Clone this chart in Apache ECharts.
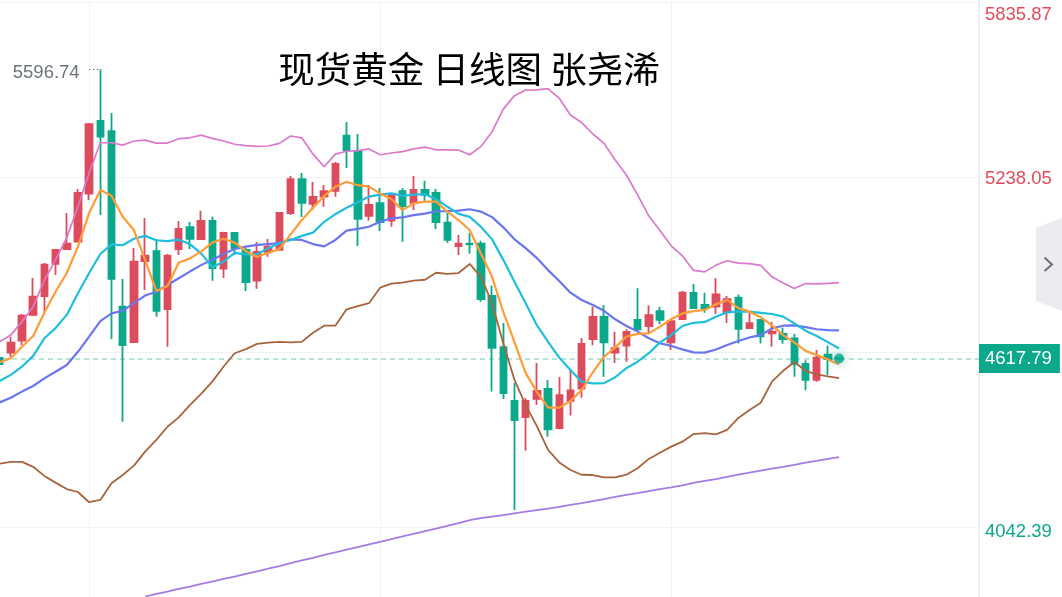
<!DOCTYPE html>
<html><head><meta charset="utf-8">
<style>html,body{margin:0;padding:0;background:#fff}#c{width:1062px;height:597px}</style>
<script src="https://cdn.jsdelivr.net/npm/echarts@6/dist/echarts.min.js"></script>
</head><body><div id="c"></div>
<script>
const titleText = '现货黄金 日线图 张尧浠';
const tickValues = [5835.87, 5238.05, 4640.23, 4042.39];
const labelValues = [5835.87, 5238.05, 4042.39];
const labelRichKeys = ['top', 'mid', 'low'];
const lastPrice = 4617.79;
const peakLabel = '5596.74';
const categories = Array.from({length: 88}, (_, i) => String(i));
const gridMarks = ['8', '34', '60'];

const opens = [4620,4638,4679,4767,4831.5,4941,4992,5017,5181,5430,5395,4795,4674,4951,4985,4787,4992,5067,5026,5088,4925,5047,4989,4884,4982,4989,5115,5231,5146,5171,5191,5379,5327,5105,5149,5089,5190,5150,5194,5184,5082,5002,5010,5010,4831.5,4657,4473,4418,4480,4514,4380,4473,4515,4684,4760,4638,4662,4750,4729,4780,4673,4753,4842,4801,4795,4776,4826,4722,4750,4704,4702,4687,4600,4545,4631,4619];
const closes = [4599,4672,4764,4829,4938.5,4989,5010,5184,5419,5376,4890,4664,4949,4969,4781,4969,5061,5027,5088,4927,5047,4995.5,4879,4982,5000,5115,5231,5150,5170,5190,5282.5,5330,5095,5143,5084,5178,5139,5194,5177,5084,5023,5010,5008,4821,4654,4500,4408,4473,4507,4376,4493,4509,4668,4760,4673,4653,4709,4718,4766,4750,4746,4843,4790.5,4790.5,4837,4821,4719,4739,4694,4710,4684,4599,4545,4621,4616,4617.79];
const lows = [4596,4623,4664,4763,4777,4903,4990,5016,5159.5,5108,4685,4402,4673,4852,4761,4658,4972,4992,5023,4884,4893,4972,4849,4856.5,4966,4986,5108,5101,5125,5136,5171,5269,5002,5089,5054,5068,5017,5125,5157,5060,5013,4972,4976,4812,4505,4480,4100.5,4303,4459,4351,4376,4423,4484,4663,4556,4603,4607,4710,4704,4735,4647,4750,4789,4774.5,4770,4739,4669,4719,4669,4658,4668,4556,4510,4539,4562,4616];
const highs = [4623,4692.5,4770,4893,4944,4992,5115,5197,5422.5,5606,5457,4890,4995.5,5098,5026,4975,5088,5084,5123,5102,5051,5047.5,4995.5,5016,5026,5115.5,5241.5,5252,5221,5211,5289,5426,5385,5211,5200.5,5183,5200.5,5241.5,5225,5197,5125,5040,5047,5020,4867,4739,4534,4483,4603,4545,4555,4582,4688,4795,4801,4709,4718,4858,4800,4795,4750,4849,4872.5,4843,4892,4831.5,4837,4774.5,4752,4744,4723,4703,4612,4647,4662,4620];

const upperBand = [4675,4698,4744,4795,4886,4955,5030,5137,5252,5355,5355,5347,5361,5364,5354,5354,5369,5372,5381,5370,5361,5350,5345,5343,5344,5353,5378,5372,5316,5273,5316,5326,5328,5334,5314,5320,5325,5334,5340,5331,5331,5330,5314,5342,5393,5470,5516,5535,5536,5540,5507,5450,5424,5385,5353,5296,5245,5177,5105,5055,5003,4969,4919,4914,4937,4952,4944,4942,4936,4897,4876,4857,4874,4873,4875,4877];
const ma5 = [4605,4619,4658,4695,4774,4846,4910,5000,5115,5194,5174,5102,5057,4955,4849,4866,4945,4960,4983,5014,5027,5014,4985,4965,4979,4992,5042,5091,5133,5173,5205,5222,5210,5205,5182,5163,5125,5148,5154,5154,5120,5091,5057,4977,4897,4777,4674,4568,4504,4450,4450,4473,4510,4571,4624,4656,4693,4702,4704,4727,4752,4772,4780,4784,4803,4818,4790,4778,4759,4731,4698,4673,4644,4630,4615,4598];
const ma10 = [4541,4562,4590,4627,4687,4722,4767,4841,4910,4975,5008,5005,5027,5037,5022,5019,5024,5009,4977,4930,4949,4979,4974,4974,4995,5012,5023,5037,5048,5085,5111,5133,5152,5171,5178,5182,5174,5178,5180,5162,5137,5112,5102,5068,5025,4955,4880,4807,4732,4675,4621,4579,4539,4533,4534,4554,4585,4607,4636,4673,4698,4729,4740,4743,4761,4776,4778,4778,4774,4770,4761,4738,4713,4695,4674,4652];
const ma20 = [4468,4484,4505,4524,4550,4573,4596,4641,4693,4746,4772,4781,4807,4833,4846,4869,4892,4915,4937,4955,4975,4992,5000,5006,5009,5012,5025,5023,5009,5001,5023,5055,5061,5068,5085,5097,5100,5108,5113,5121,5121,5123,5128,5120,5101,5066,5025,4995,4961,4920,4883,4843,4818,4801,4781,4752,4729,4710,4687,4670,4661,4649,4639,4638,4649,4664,4678,4690,4698,4721,4730,4731,4725,4718,4715,4714];
const lowerBand = [4259,4265,4265,4248,4217,4194,4172,4162,4127,4135,4192,4220,4252,4300,4340,4385,4417,4459,4497,4539,4590,4636,4650,4668,4672,4675,4673,4675,4706,4730,4730,4786,4797,4807,4860,4874,4877,4884,4887,4911,4907,4910,4941,4897,4807,4670,4545,4459,4387,4306,4263,4237,4221,4220,4212,4212,4221,4243,4275,4296,4317,4334,4360,4363,4359,4374,4415,4442,4467,4539,4576,4606,4576,4564,4557,4551];
const ma200 = [null,null,null,null,null,null,null,null,null,null,null,null,null,3805,3814,3822,3831,3839,3848,3856,3865,3873,3882,3891,3900,3909,3919,3928,3937,3947,3956,3965,3974,3983,3992,4001,4010,4019,4028,4037,4046,4056,4066,4073,4078,4083,4089,4095,4100,4105,4111,4118,4124,4131,4138,4145,4152,4158,4165,4172,4178,4185,4193,4200,4206,4214,4221,4228,4235,4242,4248,4255,4262,4268,4275,4281.5];

const RED = '#DC4C5C', GREEN = '#0BA88B', GRID = '#F2F3F7';
const candles = opens.map((o, i) => [o, closes[i], lows[i], highs[i]]);
const lineSeries = (name, data, color, width) => ({
  name, type: 'line', data, symbol: 'none', smooth: false, z: 3, connectNulls: false,
  lineStyle: {color, width}, silent: true
});
const tickFont = {fontSize: 18.5, fontFamily: '"Liberation Sans"'};

const chart = echarts.init(document.getElementById('c'), null, {renderer: 'canvas'});
chart.setOption({
  animation: false,
  backgroundColor: '#fff',
  title: {text: titleText, left: 464, top: 46, textAlign: 'center',
    textStyle: {fontFamily: '"Noto Sans CJK SC"', fontSize: 36.5, fontWeight: 'normal', color: '#000'}},
  grid: {left: -6, right: 83, top: 2, bottom: 0, containLabel: false, outerBoundsMode: 'none'},
  xAxis: {type: 'category', data: categories, boundaryGap: true,
    axisLine: {show: false}, axisTick: {show: false}, axisLabel: {show: false}, splitLine: {show: false}},
  yAxis: {type: 'value', position: 'right', min: 3803.3, max: 5835.87, scale: true,
    axisLine: {show: false},
    axisTick: {show: false, customValues: tickValues},
    splitLine: {show: true, lineStyle: {color: GRID, width: 1}},
    axisLabel: {show: true, customValues: labelValues, margin: 6, ...tickFont,
      formatter: v => '{' + labelRichKeys[labelValues.indexOf(v)] + '|' + v.toFixed(2) + '}',
      rich: {
        top: {padding: [26, 0, 0, 0], color: RED, ...tickFont},
        mid: {padding: [4, 0, 0, 0], color: RED, ...tickFont},
        low: {padding: [9, 0, 0, 0], color: GREEN, ...tickFont}
      }}},
  series: [
    {name: 'K', type: 'candlestick', data: candles, barWidth: 7, z: 2,
      itemStyle: {color: RED, color0: GREEN, borderColor: RED, borderColor0: GREEN, borderWidth: 1.8},
      markLine: {silent: true, symbol: 'none', animation: false, z: 1,
        data: [
          ...gridMarks.map(c => ({xAxis: c, label: {show: false}, lineStyle: {color: GRID, width: 1, type: 'solid'}})),
          {yAxis: lastPrice, lineStyle: {color: '#9FDCCB', width: 1.5, type: [5, 4]},
            label: {show: true, position: 'end', distance: 0, formatter: lastPrice.toFixed(2), color: '#fff',
              backgroundColor: GREEN, ...tickFont,
              padding: [5, 8, 5, 6]}},
          [{coord: ['8', highs[9]], lineStyle: {color: '#444', width: 1, type: [1, 3]}, label: {show: false}}, {coord: ['9', highs[9]]}]
        ]},
      markPoint: {silent: true, animation: false,
        data: [{coord: ['8', highs[9]], symbol: 'circle', symbolSize: 1, itemStyle: {color: 'transparent'},
          label: {show: true, position: 'left', distance: 9, offset: [0, 4], formatter: peakLabel,
            color: '#6B7280', ...tickFont}}]}
    },
    lineSeries('上轨', upperBand, '#DB78CC', 1.7),
    lineSeries('下轨', lowerBand, '#A8643C', 1.8),
    lineSeries('MA200', ma200, '#A57BE4', 1.8),
    lineSeries('MA20', ma20, '#6B75F0', 2.2),
    lineSeries('MA10', ma10, '#1FBEDC', 2.2),
    lineSeries('MA5', ma5, '#FF9C38', 2.2),
    {name: 'last', type: 'scatter', z: 5, silent: true, symbolSize: 10,
      data: [[String(opens.length - 1), lastPrice]],
      itemStyle: {color: GREEN, shadowBlur: 10, shadowColor: 'rgba(11,168,139,0.7)'}}
  ],
  graphic: [
    {type: 'rect', shape: {x: 978, y: 0, width: 2, height: 597}, style: {fill: '#EEF0F5'}, z: 1, silent: true},
    {type: 'polygon', shape: {points: [[1062, 218], [1036, 228], [1036, 301], [1062, 311]]}, style: {fill: '#EBEBF0'}, z: 10, silent: true},
    {type: 'polyline', shape: {points: [[1044.5, 257.5], [1052, 264.5], [1044.5, 271]]}, style: {stroke: '#6B7080', lineWidth: 2, fill: null}, z: 11, silent: true}
  ]
});
</script></body></html>
